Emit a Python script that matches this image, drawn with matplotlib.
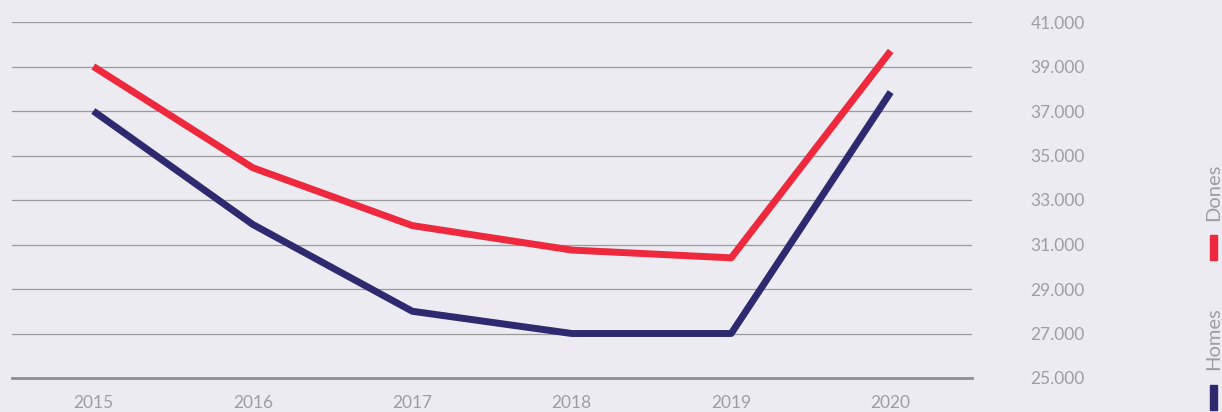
import matplotlib.pyplot as plt
from matplotlib.patches import Rectangle

years = ['2015', '2016', '2017', '2018', '2019', '2020']
dones = [39000, 34450, 31850, 30750, 30400, 39700]
homes = [37000, 31900, 28000, 27000, 27000, 37850]
y_ticks = list(range(25000, 41001, 2000))
y_labels = ['{:,}'.format(v).replace(',', '.') for v in y_ticks]

bg = '#ECEBF1'
red = '#EE293D'
navy = '#2D2A70'
txt = '#9E9EA2'

plt.rcParams['font.family'] = ['Lato', 'DejaVu Sans']

fig = plt.figure(figsize=(12.22, 4.12), dpi=100, facecolor=bg)
ax = fig.add_axes([12 / 1222, 34 / 412, 960 / 1222, 356 / 412])
ax.set_facecolor(bg)

x = list(range(len(years)))
ax.plot(x, homes, color=navy, lw=5, solid_capstyle='butt', solid_joinstyle='round')
ax.plot(x, dones, color=red, lw=5, solid_capstyle='butt', solid_joinstyle='round')

ax.set_xlim(-0.51, 5.51)
ax.set_ylim(25000, 41000)
for v in y_ticks[1:]:
    ax.axhline(v, color='#9A9A9D', lw=0.9, zorder=0)
ax.axhline(25000, color='#8E8E90', lw=2, zorder=0, clip_on=False)

for s in ax.spines.values():
    s.set_visible(False)
ax.set_yticks(y_ticks)
ax.set_yticklabels(y_labels)
ax.yaxis.tick_right()
ax.tick_params(axis='y', length=0, pad=42, labelsize=12.5, labelcolor=txt)
ax.set_xticks(x)
ax.set_xticklabels(years)
ax.tick_params(axis='x', length=0, pad=12, labelsize=12.5, labelcolor=txt)

# legend on the far right, rotated labels
fig.add_artist(Rectangle((1210 / 1222, 152 / 412), 7 / 1222, 25 / 412,
                         transform=fig.transFigure, color=red))
fig.text(1213.5 / 1222, (412 - 192) / 412, 'Dones', rotation=90, ha='center',
         va='center', fontsize=14.5, color=txt)
fig.add_artist(Rectangle((1210 / 1222, 2 / 412), 7 / 1222, 25 / 412,
                         transform=fig.transFigure, color=navy))
fig.text(1213.5 / 1222, (412 - 339) / 412, 'Homes', rotation=90, ha='center',
         va='center', fontsize=14.5, color=txt)

fig.savefig('out.png', dpi=100, facecolor=bg)
